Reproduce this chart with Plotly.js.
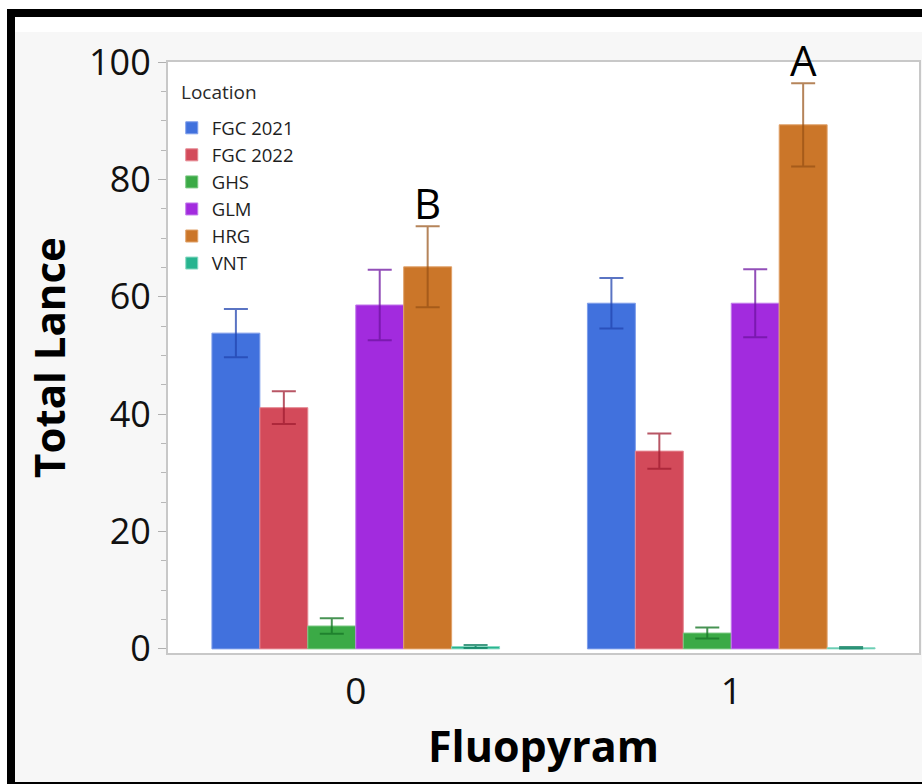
<!DOCTYPE html>
<html>
<head>
<meta charset="utf-8">
<script src="https://cdn.plot.ly/plotly-3.0.1.min.js"></script>
<style>
  html, body { margin:0; padding:0; background:#ffffff; }
  #frame { position:relative; width:922px; height:784px; overflow:hidden; background:#ffffff; }
  #topbar { position:absolute; left:7px; top:9px; width:915px; height:8px; background:#000; }
  #leftbar { position:absolute; left:7px; top:9px; width:8px; height:775px; background:#000; }
  #botbar { position:absolute; left:7px; top:782px; width:915px; height:2px; background:#000; }
  #chart { position:absolute; left:15px; top:32px; width:907px; height:750px; }
</style>
</head>
<body>
<div id="frame">
  <div id="topbar"></div>
  <div id="leftbar"></div>
  <div id="botbar"></div>
  <div id="chart"></div>
</div>
<script>
// ---- data ----
const categories = ["0", "1"];
const locations = ["FGC 2021", "FGC 2022", "GHS", "GLM", "HRG", "VNT"];
const fgc2021 = [53.8, 58.9];
const fgc2021Err = [4.1, 4.3];
const fgc2022 = [41.1, 33.7];
const fgc2022Err = [2.8, 3.0];
const ghs = [3.9, 2.7];
const ghsErr = [1.3, 0.95];
const glm = [58.6, 58.9];
const glmErr = [6.0, 5.8];
const hrg = [65.1, 89.3];
const hrgErr = [6.9, 7.1];
const vnt = [0.4, 0.2];
const vntErr = [0.25, 0.12];
const letterLabels = ["B", "A"];
const legendTitle = "Location";

const seriesValues = [fgc2021, fgc2022, ghs, glm, hrg, vnt];
const seriesErrors = [fgc2021Err, fgc2022Err, ghsErr, glmErr, hrgErr, vntErr];
const fillColors = ["#4171DD", "#D34A5A", "#3BAA46", "#A22BDE", "#CB7629", "#27B48F"];
const edgeColors = ["#7E9DEA", "#E58892", "#7CC883", "#C27BEB", "#E0A26A", "#8AD9C4"];
const errColors  = ["rgba(35,70,175,0.75)", "rgba(160,30,50,0.75)", "rgba(25,120,40,0.8)",
                    "rgba(110,20,160,0.75)", "rgba(150,80,20,0.7)", "rgba(20,130,100,0.8)"];

const traces = locations.map((name, i) => ({
  type: 'bar',
  name: name,
  x: categories,
  y: seriesValues[i],
  legendgroup: name,
  marker: { color: fillColors[i], line: { color: edgeColors[i], width: 1 } },
  error_y: { type: 'data', array: seriesErrors[i], visible: true,
             color: errColors[i], thickness: 2, width: 12 },
  hoverinfo: 'x+y+name'
}));

const fontFam = '"Open Sans", "Noto Sans", sans-serif';

// letter annotations placed above HRG bars (index 4 of 6 in each group)
const annotations = categories.map((c, k) => ({
  x: k, y: hrg[k] + hrgErr[k], xref: 'x', yref: 'y',
  text: letterLabels[k], showarrow: false,
  xshift: 72, yshift: 24, yanchor: 'middle',
  font: { family: fontFam, size: 42, color: '#000' }
}));
annotations.push({
  xref: 'paper', yref: 'paper', x: 0.014, y: 0.95, xanchor: 'left', yanchor: 'middle',
  text: legendTitle, showarrow: false,
  font: { family: fontFam, size: 19, color: '#2a2a2a' }
});

const layout = {
  width: 907, height: 750,
  margin: { l: 153, r: 3, t: 30, b: 129, pad: 0 },
  paper_bgcolor: '#f7f7f7',
  plot_bgcolor: '#ffffff',
  barmode: 'group',
  bargap: 0.234,
  bargroupgap: 0,
  showlegend: true,
  legend: {
    x: 0.005, y: 0.92, xanchor: 'left', yanchor: 'top',
    bgcolor: 'rgba(0,0,0,0)',
    font: { family: fontFam, size: 18.5, color: '#1e1e1e' },
    traceorder: 'grouped',
    tracegroupgap: 0,
    itemwidth: 30
  },
  xaxis: {
    type: 'category',
    tickfont: { family: fontFam, size: 37, color: '#111' },
    ticks: 'outside', ticklen: 5, tickcolor: 'rgba(0,0,0,0)',
    title: { text: '<b>Fluopyram</b>', font: { family: fontFam, size: 43, color: '#000' }, standoff: 17 },
    showline: true, linecolor: '#c8c8c8', linewidth: 2, mirror: true,
    showgrid: false, zeroline: false,
    automargin: false
  },
  yaxis: {
    range: [-0.7, 100],
    tickvals: [0, 20, 40, 60, 80, 100],
    tickfont: { family: fontFam, size: 36, color: '#111' },
    title: { text: '<b>Total Lance</b>', font: { family: fontFam, size: 42, color: '#000' }, standoff: 10 },
    showline: true, linecolor: '#c8c8c8', linewidth: 2, mirror: true,
    ticks: 'outside', ticklen: 8, tickcolor: '#b0b0b0', tickwidth: 1,
    minor: { dtick: 5, tick0: 0, ticks: 'outside', ticklen: 5, tickcolor: '#b8b8b8' },
    showgrid: false, zeroline: false,
    automargin: false
  },
  annotations: annotations
};

Plotly.newPlot('chart', traces, layout, { displayModeBar: false, staticPlot: true });
</script>
</body>
</html>
